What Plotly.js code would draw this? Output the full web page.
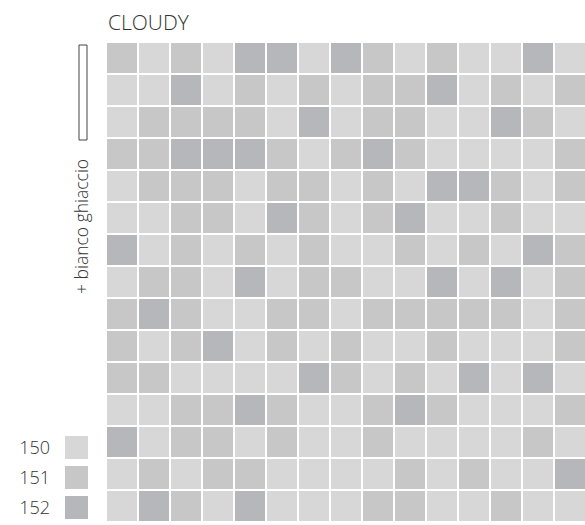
<!DOCTYPE html>
<html>
<head>
<meta charset="utf-8">
<script src="https://cdn.plot.ly/plotly-3.0.1.min.js"></script>
<style>html,body{margin:0;padding:0;background:#fff;}#chart{width:585px;height:525px;}</style>
</head>
<body>
<div id="chart"></div>
<script>
// Tile shades, top row first (150 = light, 151 = medium, 152 = dark)
var row0  = [151,150,151,150,152,152,150,152,151,150,151,150,150,152,150];
var row1  = [150,150,152,150,151,150,151,150,151,151,152,150,151,150,151];
var row2  = [150,151,151,151,151,150,152,150,151,151,150,150,152,151,150];
var row3  = [151,151,152,152,152,151,150,151,152,151,150,150,150,150,151];
var row4  = [150,151,151,151,150,151,151,150,151,150,152,152,151,150,151];
var row5  = [150,150,151,151,150,152,151,150,151,152,150,150,151,150,150];
var row6  = [152,150,151,150,151,150,151,150,150,151,150,151,150,152,151];
var row7  = [150,151,151,150,152,150,151,151,150,150,152,150,152,150,151];
var row8  = [151,152,151,150,150,151,151,150,151,151,151,151,151,150,151];
var row9  = [151,150,151,152,150,151,150,151,150,150,151,150,150,150,151];
var row10 = [151,151,150,150,150,150,152,151,150,151,150,152,150,152,150];
var row11 = [150,150,151,151,152,151,150,150,151,152,151,150,150,150,151];
var row12 = [152,150,151,151,150,151,150,150,151,150,150,150,150,151,150];
var row13 = [150,151,150,151,151,150,150,150,150,151,150,151,150,150,152];
var row14 = [150,152,151,150,152,150,150,150,151,151,150,150,151,150,150];

var colIdx = [0,1,2,3,4,5,6,7,8,9,10,11,12,13,14];
var rowIdx = [0,1,2,3,4,5,6,7,8,9,10,11,12,13,14];

var legendLabels = ['150','151','152'];
var legendValues = [150,151,152];

var titleText = 'CLOUDY';
var sideLabel = '+ bianco ghiaccio';

var shade150 = '#d7d7d7', shade151 = '#c7c7c8', shade152 = '#b6b7ba';
var scale = [[0, shade150],[0.5, shade151],[1, shade152]];

var W = 585, H = 525;
var z = [row0,row1,row2,row3,row4,row5,row6,row7,row8,row9,row10,row11,row12,row13,row14];

var mosaic = {
  type: 'heatmap', x: colIdx, y: rowIdx, z: z,
  zmin: 150, zmax: 152, colorscale: scale, showscale: false,
  xgap: 2, ygap: 2, hoverinfo: 'skip', xaxis: 'x', yaxis: 'y'
};

var legendTrace = {
  type: 'heatmap', x: ['s'], y: legendLabels,
  z: legendValues.map(function(v){return [v];}),
  zmin: 150, zmax: 152, colorscale: scale, showscale: false,
  ygap: 7, hoverinfo: 'skip', xaxis: 'x2', yaxis: 'y2'
};

var txtFont = 'Open Sans, sans-serif';

var layout = {
  width: W, height: H,
  margin: {l: 0, r: 0, t: 0, b: 0},
  paper_bgcolor: '#ffffff', plot_bgcolor: '#ffffff',
  showlegend: false,
  font: {family: txtFont, color: '#333333'},
  title: {text: titleText, x: 108/W, xanchor: 'left', xref: 'paper',
          y: 1 - 23/H, yanchor: 'middle', yref: 'container',
          font: {size: 21, color: '#333333', family: txtFont, weight: 300}},
  xaxis: {domain: [106/W, 1], range: [-0.5, 14.47], showgrid: false, zeroline: false,
          showticklabels: false, ticks: '', showline: false, fixedrange: true},
  yaxis: {domain: [3/H, 483/H], range: [14.5, -0.5], showgrid: false, zeroline: false,
          showticklabels: false, ticks: '', showline: false, fixedrange: true},
  xaxis2: {domain: [65/W, 88/W], anchor: 'y2', showgrid: false, zeroline: false,
           showticklabels: false, ticks: '', showline: false, fixedrange: true},
  yaxis2: {domain: [2/H, 92/H], anchor: 'x2', type: 'category', autorange: 'reversed',
           showgrid: false, zeroline: false, ticks: '', showline: false, fixedrange: true,
           ticklabelstandoff: 14, tickfont: {size: 18, color: '#333333', family: txtFont, weight: 300}},
  annotations: [{
    text: sideLabel, textangle: -90, xref: 'paper', yref: 'paper',
    x: 81/W, y: 1 - 227/H, xanchor: 'center', yanchor: 'middle', showarrow: false,
    font: {size: 17.5, color: '#333333', family: txtFont, weight: 300}
  }],
  shapes: [{
    type: 'rect', xref: 'paper', yref: 'paper',
    x0: 79/W, x1: 87/W, y0: 1 - 140/H, y1: 1 - 45/H,
    line: {color: '#444444', width: 1}, fillcolor: '#ffffff'
  }]
};

Plotly.newPlot('chart', [mosaic, legendTrace], layout, {displayModeBar: false, staticPlot: true});
</script>
</body>
</html>
